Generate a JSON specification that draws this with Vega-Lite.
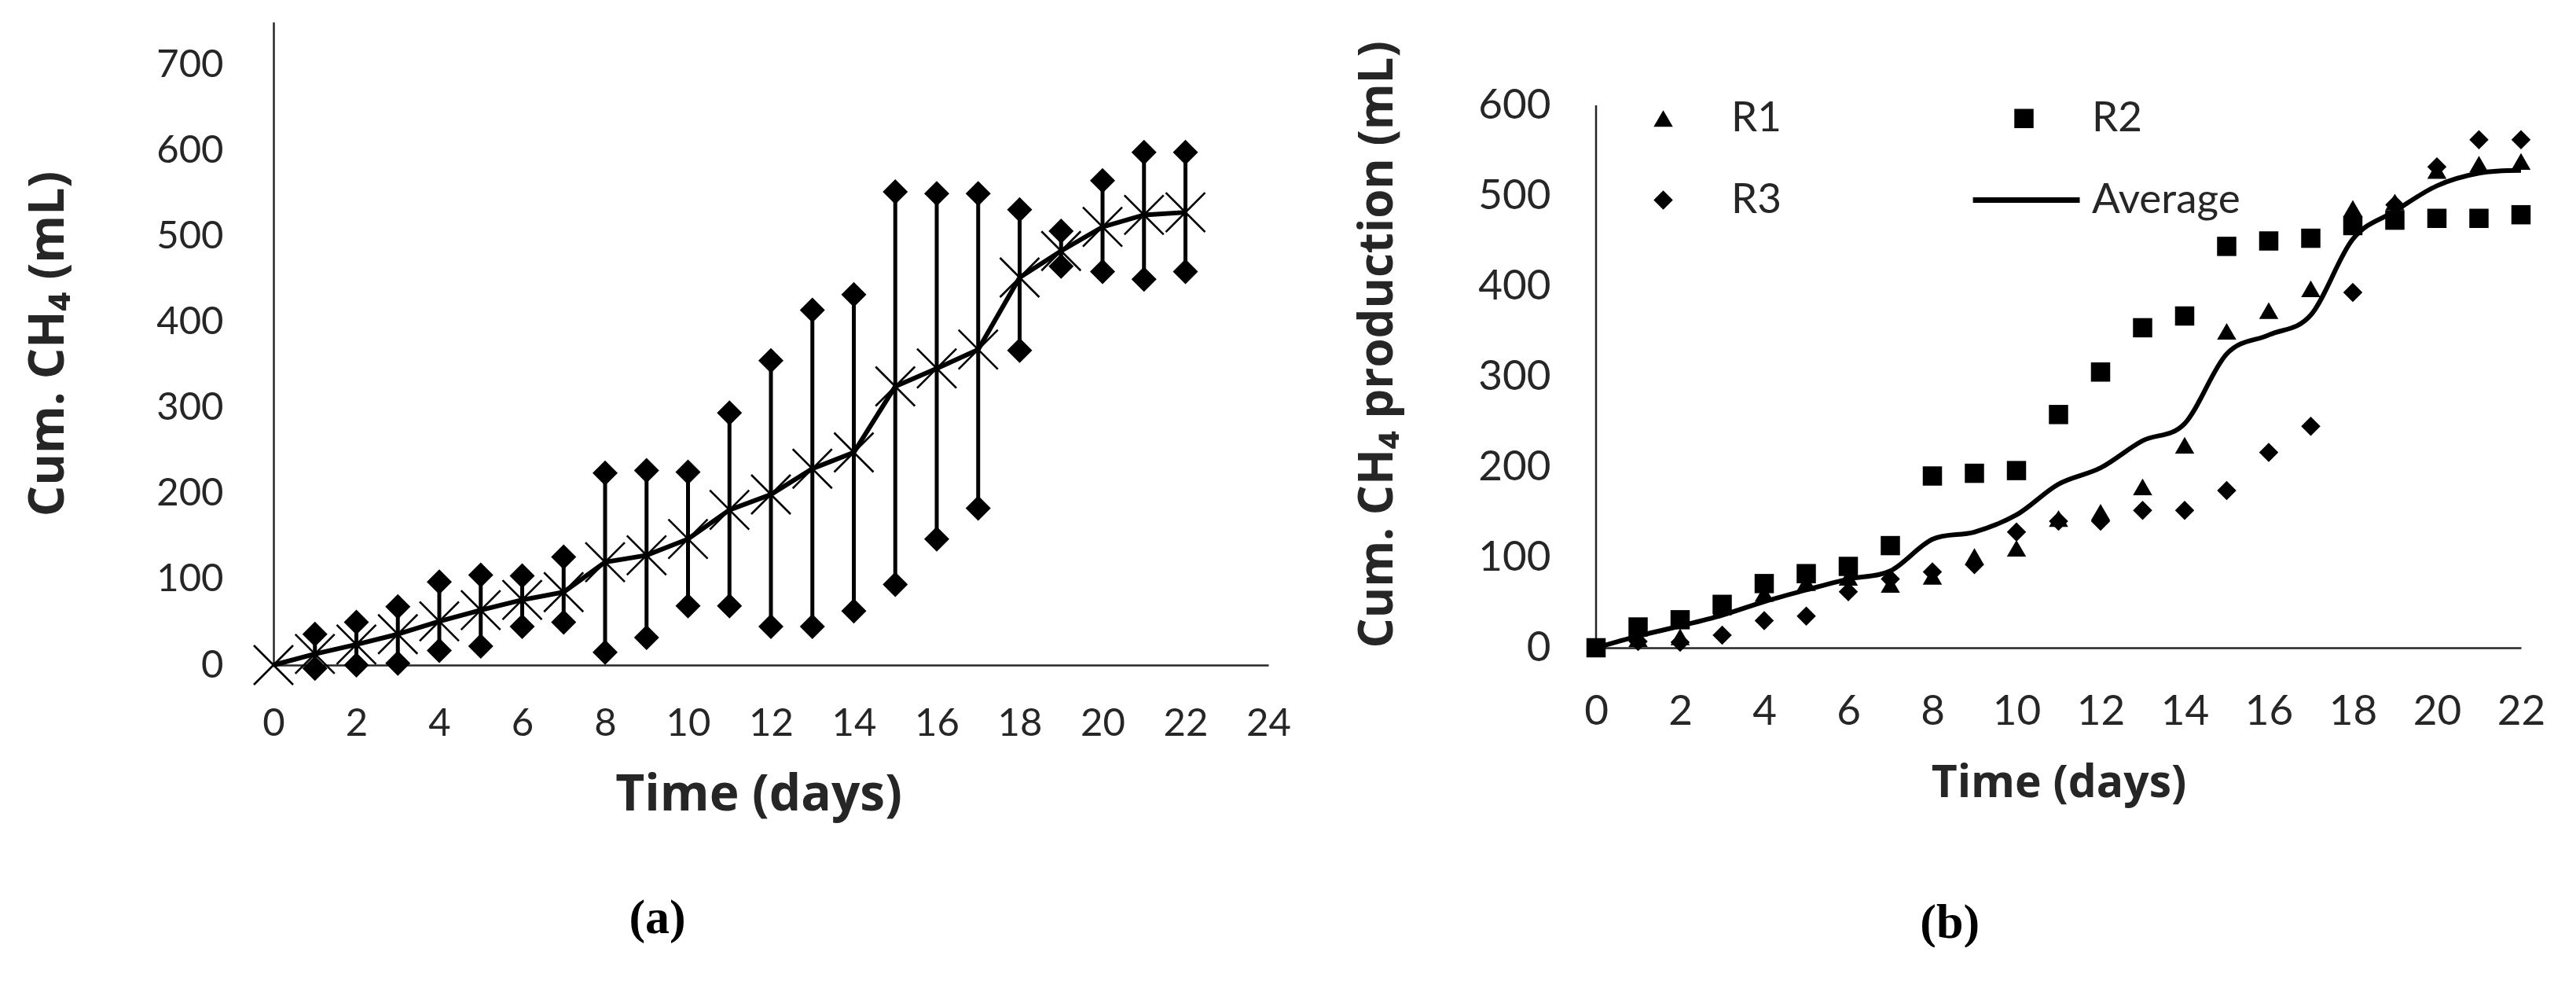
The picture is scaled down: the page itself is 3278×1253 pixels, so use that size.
{
  "$schema": "https://vega.github.io/schema/vega-lite/v6.json",
  "background": "white",
  "padding": {"left": 30, "top": 28, "right": 0, "bottom": 0},
  "spacing": 80,
  "resolve": {"scale": {"shape": "independent"}, "legend": {"shape": "independent"}},
  "datasets": {
    "avg": [
      {"day": 0, "avg": 0},
      {"day": 1, "avg": 13, "lo": -4, "hi": 36},
      {"day": 2, "avg": 24, "lo": 0, "hi": 50},
      {"day": 3, "avg": 36, "lo": 2, "hi": 68},
      {"day": 4, "avg": 51, "lo": 17, "hi": 97},
      {"day": 5, "avg": 64, "lo": 22, "hi": 105},
      {"day": 6, "avg": 76, "lo": 45, "hi": 104},
      {"day": 7, "avg": 85, "lo": 50, "hi": 126},
      {"day": 8, "avg": 120, "lo": 15, "hi": 224},
      {"day": 9, "avg": 128, "lo": 32, "hi": 227},
      {"day": 10, "avg": 147, "lo": 69, "hi": 225},
      {"day": 11, "avg": 181, "lo": 69, "hi": 294},
      {"day": 12, "avg": 199, "lo": 45, "hi": 355},
      {"day": 13, "avg": 229, "lo": 45, "hi": 414},
      {"day": 14, "avg": 248, "lo": 63, "hi": 432},
      {"day": 15, "avg": 325, "lo": 94, "hi": 552},
      {"day": 16, "avg": 346, "lo": 147, "hi": 550},
      {"day": 17, "avg": 368, "lo": 183, "hi": 550},
      {"day": 18, "avg": 452, "lo": 367, "hi": 531},
      {"day": 19, "avg": 483, "lo": 465, "hi": 506},
      {"day": 20, "avg": 511, "lo": 459, "hi": 565},
      {"day": 21, "avg": 525, "lo": 450, "hi": 598},
      {"day": 22, "avg": 528, "lo": 459, "hi": 598}
    ],
    "reps": [
      {"day": 0, "series": "R1", "value": 0}, {"day": 0, "series": "R2", "value": 0}, {"day": 0, "series": "R3", "value": 0},
      {"day": 1, "series": "R1", "value": 10}, {"day": 1, "series": "R2", "value": 23}, {"day": 1, "series": "R3", "value": 7},
      {"day": 2, "series": "R1", "value": 12}, {"day": 2, "series": "R2", "value": 31}, {"day": 2, "series": "R3", "value": 6},
      {"day": 3, "series": "R1", "value": 45}, {"day": 3, "series": "R2", "value": 48}, {"day": 3, "series": "R3", "value": 14},
      {"day": 4, "series": "R1", "value": 60}, {"day": 4, "series": "R2", "value": 71}, {"day": 4, "series": "R3", "value": 30},
      {"day": 5, "series": "R1", "value": 72}, {"day": 5, "series": "R2", "value": 82}, {"day": 5, "series": "R3", "value": 35},
      {"day": 6, "series": "R1", "value": 78}, {"day": 6, "series": "R2", "value": 90}, {"day": 6, "series": "R3", "value": 62},
      {"day": 7, "series": "R1", "value": 70}, {"day": 7, "series": "R2", "value": 113}, {"day": 7, "series": "R3", "value": 76},
      {"day": 8, "series": "R1", "value": 79}, {"day": 8, "series": "R2", "value": 190}, {"day": 8, "series": "R3", "value": 84},
      {"day": 9, "series": "R1", "value": 101}, {"day": 9, "series": "R2", "value": 193}, {"day": 9, "series": "R3", "value": 92},
      {"day": 10, "series": "R1", "value": 110}, {"day": 10, "series": "R2", "value": 196}, {"day": 10, "series": "R3", "value": 128},
      {"day": 11, "series": "R1", "value": 143}, {"day": 11, "series": "R2", "value": 258}, {"day": 11, "series": "R3", "value": 140},
      {"day": 12, "series": "R1", "value": 150}, {"day": 12, "series": "R2", "value": 305}, {"day": 12, "series": "R3", "value": 140},
      {"day": 13, "series": "R1", "value": 178}, {"day": 13, "series": "R2", "value": 354}, {"day": 13, "series": "R3", "value": 152},
      {"day": 14, "series": "R1", "value": 224}, {"day": 14, "series": "R2", "value": 367}, {"day": 14, "series": "R3", "value": 152},
      {"day": 15, "series": "R1", "value": 350}, {"day": 15, "series": "R2", "value": 444}, {"day": 15, "series": "R3", "value": 174},
      {"day": 16, "series": "R1", "value": 373}, {"day": 16, "series": "R2", "value": 450}, {"day": 16, "series": "R3", "value": 216},
      {"day": 17, "series": "R1", "value": 397}, {"day": 17, "series": "R2", "value": 453}, {"day": 17, "series": "R3", "value": 245},
      {"day": 18, "series": "R1", "value": 486}, {"day": 18, "series": "R2", "value": 467}, {"day": 18, "series": "R3", "value": 393},
      {"day": 19, "series": "R1", "value": 493}, {"day": 19, "series": "R2", "value": 473}, {"day": 19, "series": "R3", "value": 490},
      {"day": 20, "series": "R1", "value": 528}, {"day": 20, "series": "R2", "value": 475}, {"day": 20, "series": "R3", "value": 532},
      {"day": 21, "series": "R1", "value": 535}, {"day": 21, "series": "R2", "value": 475}, {"day": 21, "series": "R3", "value": 562},
      {"day": 22, "series": "R1", "value": 538}, {"day": 22, "series": "R2", "value": 479}, {"day": 22, "series": "R3", "value": 562}
    ]
  },
  "config": {
    "view": {"stroke": null},
    "font": "Lato",
    "axis": {
      "grid": false,
      "ticks": false,
      "domainColor": "#262626",
      "domainWidth": 2.5,
      "labelColor": "#262626",
      "titleColor": "#262626",
      "labelFont": "Lato",
      "titleFont": "Open Sans",
      "titleFontWeight": "bold",
      "labelFlush": false,
      "labelOverlap": false
    },
    "title": {
      "font": "Liberation Serif",
      "fontSize": 62,
      "fontWeight": "bold",
      "color": "black",
      "orient": "bottom",
      "anchor": "middle",
      "frame": "bounds"
    }
  },
  "hconcat": [
    {
      "width": 1266,
      "height": 818,
      "title": {"text": "(a)", "offset": 95},
      "data": {"name": "avg"},
      "encoding": {
        "x": {
          "field": "day",
          "type": "quantitative",
          "scale": {"domain": [0, 24], "nice": false},
          "axis": {
            "values": [0, 2, 4, 6, 8, 10, 12, 14, 16, 18, 20, 22, 24],
            "title": "Time (days)",
            "titleX": 617,
            "labelFontSize": 49,
            "labelPadding": 50,
            "titleFontSize": 64,
            "titlePadding": 34
          }
        }
      },
      "layer": [
        {
          "mark": {"type": "rule", "color": "black", "strokeWidth": 5},
          "encoding": {
            "y": {
              "field": "lo",
              "type": "quantitative",
              "scale": {"domain": [0, 750], "nice": false},
              "axis": {
                "values": [0, 100, 200, 300, 400, 500, 600, 700],
                "title": "Cum. CH₄ (mL)",
                "labelFontSize": 49,
                "labelPadding": 64,
                "titleFontSize": 62,
                "titlePadding": 105
              }
            },
            "y2": {"field": "hi"}
          }
        },
        {
          "mark": {"type": "line", "color": "black", "strokeWidth": 6},
          "encoding": {"y": {"field": "avg", "type": "quantitative", "title": "Cum. CH₄ (mL)"}}
        },
        {
          "mark": {"type": "point", "shape": "diamond", "filled": true, "color": "black", "opacity": 1, "size": 1024},
          "encoding": {"y": {"field": "lo", "type": "quantitative", "title": "Cum. CH₄ (mL)"}}
        },
        {
          "mark": {"type": "point", "shape": "diamond", "filled": true, "color": "black", "opacity": 1, "size": 1024},
          "encoding": {"y": {"field": "hi", "type": "quantitative", "title": "Cum. CH₄ (mL)"}}
        },
        {
          "mark": {"type": "point", "shape": "M-1,-1L1,1M-1,1L1,-1", "filled": false, "color": "black", "opacity": 1, "strokeWidth": 2.6, "size": 2500},
          "encoding": {"y": {"field": "avg", "type": "quantitative", "title": "Cum. CH₄ (mL)"}}
        }
      ]
    },
    {
      "width": 1177,
      "height": 796,
      "title": {"text": "(b)", "offset": 120},
      "layer": [
        {
          "data": {"values": [{}]},
          "mark": {"type": "rule", "color": "#262626", "strokeWidth": 2.5},
          "encoding": {
            "x": {"datum": 0, "type": "quantitative"},
            "y": {"datum": 0, "type": "quantitative"},
            "y2": {"datum": 600}
          }
        },
        {
          "data": {"name": "avg"},
          "mark": {"type": "line", "color": "black", "strokeWidth": 6, "interpolate": "cardinal"},
          "encoding": {
            "x": {"field": "day", "type": "quantitative"},
            "y": {"field": "avg", "type": "quantitative"}
          }
        },
        {
          "data": {"name": "reps"},
          "mark": {"type": "point", "filled": true, "color": "black", "opacity": 1, "size": 600},
          "encoding": {
            "x": {
              "field": "day",
              "type": "quantitative",
              "scale": {"domain": [0, 22], "nice": false},
              "axis": {
                "values": [0, 2, 4, 6, 8, 10, 12, 14, 16, 18, 20, 22],
                "title": "Time (days)",
                "labelFontSize": 53,
                "labelPadding": 55,
                "titleFontSize": 57,
                "titlePadding": 36
              }
            },
            "y": {
              "field": "value",
              "type": "quantitative",
              "scale": {"domain": [0, 692.2], "nice": false},
              "axis": {
                "values": [0, 100, 200, 300, 400, 500, 600],
                "domain": false,
                "title": "Cum. CH₄  production (mL)",
                "titleAnchor": "start",
                "labelFontSize": 53,
                "labelPadding": 58,
                "titleFontSize": 60,
                "titlePadding": 96
              }
            },
            "shape": {
              "field": "series",
              "type": "nominal",
              "scale": {
                "domain": ["R1", "R2", "R3", "Average"],
                "range": ["triangle-up", "square", "diamond", "M-5.3,-0.28H5.8V0.28H-5.3Z"]
              },
              "legend": {
                "title": null,
                "orient": "none",
                "legendX": 59,
                "legendY": 96,
                "direction": "horizontal",
                "columns": 2,
                "gridAlign": "each",
                "columnPadding": 243,
                "rowPadding": 50,
                "padding": 0,
                "symbolSize": 600,
                "symbolFillColor": "black",
                "symbolStrokeWidth": 0,
                "labelFont": "Lato",
                "labelFontSize": 53,
                "labelColor": "#262626",
                "labelLimit": 500,
                "labelOffset": 60
              }
            }
          }
        }
      ]
    }
  ]
}
